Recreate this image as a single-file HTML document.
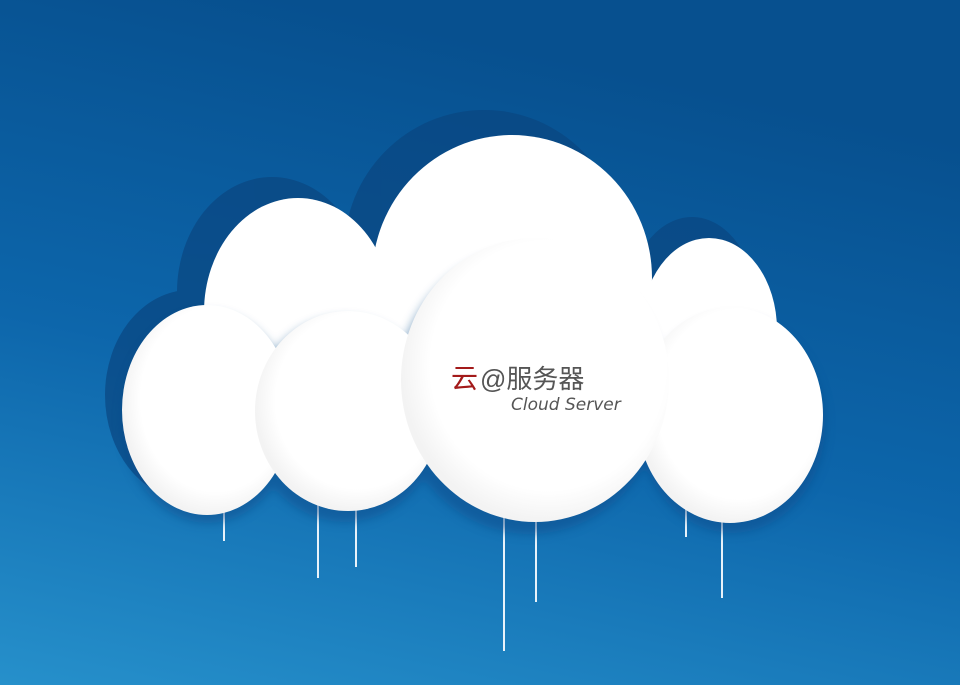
<!DOCTYPE html>
<html><head><meta charset="utf-8"><style>
html,body{margin:0;padding:0;width:960px;height:685px;overflow:hidden}
</style></head><body>
<svg width="960" height="685" viewBox="0 0 960 685" xmlns="http://www.w3.org/2000/svg">
<defs>
<linearGradient id="bg" x1="0.3" y1="0" x2="0" y2="1">
<stop offset="0" stop-color="#07508f"/>
<stop offset="0.5" stop-color="#0d66ab"/>
<stop offset="1" stop-color="#2690cb"/>
</linearGradient>
<radialGradient id="wf" cx="0.55" cy="0.45" r="0.55">
<stop offset="0.8" stop-color="#ffffff"/>
<stop offset="1" stop-color="#f3f3f3"/>
</radialGradient>
<filter id="bl" x="-20%" y="-20%" width="140%" height="140%"><feGaussianBlur stdDeviation="5"/></filter>
</defs>
<rect width="960" height="685" fill="url(#bg)"/>
<g stroke="#e8f2fa" stroke-width="2">
<line x1="224" y1="505" x2="224" y2="541"/>
<line x1="318" y1="500" x2="318" y2="578"/>
<line x1="356" y1="500" x2="356" y2="567"/>
<line x1="504" y1="510" x2="504" y2="651"/>
<line x1="536" y1="500" x2="536" y2="602"/>
<line x1="686" y1="505" x2="686" y2="537"/>
<line x1="722" y1="510" x2="722" y2="598"/>
</g>
<g fill="#0a4680" opacity="0.7">
<ellipse cx="484" cy="252" rx="140" ry="142"/>
<ellipse cx="272" cy="292" rx="95" ry="115"/>
<ellipse cx="692" cy="312" rx="66" ry="95"/>
<ellipse cx="190" cy="395" rx="85" ry="105"/>
</g>
<ellipse cx="512" cy="278" rx="140" ry="143" fill="#fff"/>
<ellipse cx="298" cy="312" rx="94" ry="114" fill="#fff"/>
<ellipse cx="709" cy="330" rx="68" ry="92" fill="#fff"/>
<g fill="#0a4a88" opacity="0.5" filter="url(#bl)">
<ellipse cx="345" cy="420" rx="95" ry="102"/>
<ellipse cx="530" cy="392" rx="134" ry="142"/>
<ellipse cx="732" cy="425" rx="93" ry="108"/>
<ellipse cx="208" cy="418" rx="86" ry="105"/>
</g>
<ellipse cx="207" cy="410" rx="85" ry="105" fill="url(#wf)"/>
<ellipse cx="348" cy="411" rx="93" ry="100" fill="url(#wf)"/>
<ellipse cx="730" cy="415" rx="93" ry="108" fill="url(#wf)"/>
<ellipse cx="535" cy="380" rx="134" ry="142" fill="url(#wf)"/>
<text x="451" y="388" font-family="Liberation Sans, Noto Sans CJK SC, sans-serif" font-size="27" fill="#a31a1a">云</text>
<text x="480" y="388" font-family="Liberation Sans, Noto Sans CJK SC, sans-serif" font-size="26" fill="#555">@服务器</text>
<text x="511" y="410" font-family="DejaVu Sans, sans-serif" font-style="italic" font-size="17" fill="#555">Cloud Server</text>
</svg>
</body></html>
